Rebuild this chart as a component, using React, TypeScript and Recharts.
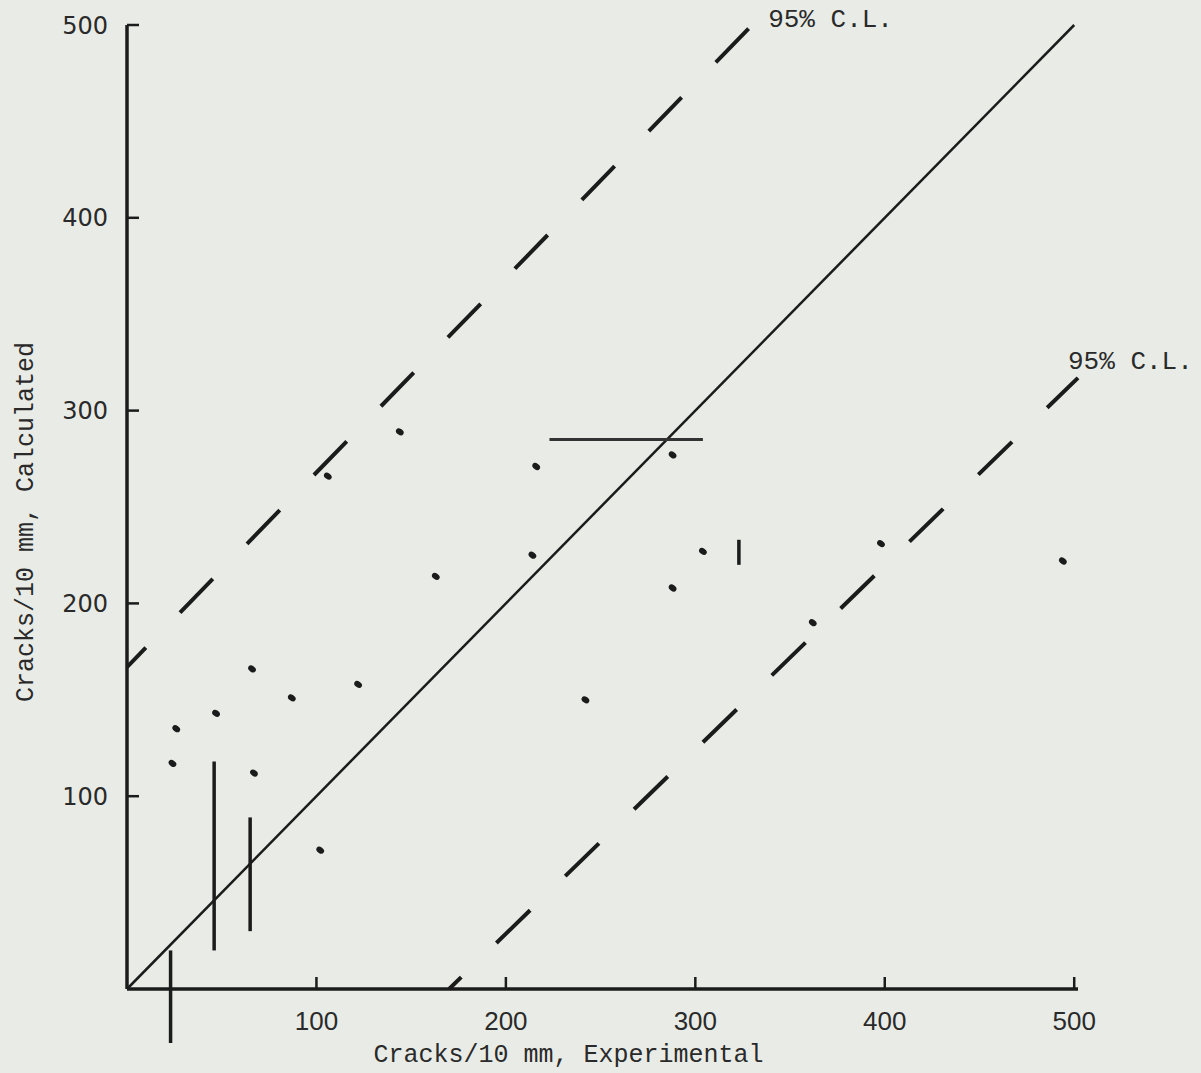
import React from 'react';
import {
  ComposedChart,
  Line,
  Scatter,
  XAxis,
  YAxis,
  ReferenceLine,
  ReferenceDot,
} from 'recharts';

const INK = '#1b1b1b';
const PAPER = '#e9ece6';
const MONO = '"Liberation Mono", "DejaVu Sans Mono", monospace';

const axisTicks = [100, 200, 300, 400, 500];

// single observations: experimental vs calculated cracks/10 mm
const expX = [26, 24, 47, 66, 87, 122, 67, 102, 106, 144, 163, 216, 214, 242, 288, 288, 304, 362, 398, 494];
const calcY = [135, 117, 143, 166, 151, 158, 112, 72, 266, 289, 214, 271, 225, 150, 277, 208, 227, 190, 231, 222];

// vertical ranges (x, low, high)
const vBarX = [46, 65, 23, 323];
const vBarLow = [20, 30, -28, 220];
const vBarHigh = [118, 89, 20, 233];

// horizontal range (y, low, high)
const hBarY = [285];
const hBarLow = [223];
const hBarHigh = [304];

// line of equality and 95% confidence limits
const equalityX = [0, 500];
const equalityY = [0, 500];
const upperCLX = [0, 330];
const upperCLY = [167, 500];
const lowerCLX = [170, 502];
const lowerCLY = [0, 317];

const toPts = (xs: number[], ys: number[]) => xs.map((x, i) => ({ x, y: ys[i] }));

const points = toPts(expX, calcY);
const equality = toPts(equalityX, equalityY);
const upperCL = toPts(upperCLX, upperCLY);
const lowerCL = toPts(lowerCLX, lowerCLY);

const Dot = (props: any) => {
  const { cx, cy } = props;
  if (cx == null || cy == null) return null;
  return <ellipse cx={cx} cy={cy} rx={4.2} ry={3} fill={INK} transform={`rotate(35 ${cx} ${cy})`} />;
};

const clLabel = (dx: number, dy: number) => (props: any) => {
  const { viewBox } = props;
  return (
    <text
      x={viewBox.x + dx}
      y={viewBox.y + dy}
      fill="#2a2a2a"
      fontFamily={MONO}
      fontSize={26}
      dominantBaseline="middle"
    >
      95% C.L.
    </text>
  );
};

export default function App() {
  return (
    <div style={{ position: 'absolute', left: 0, top: 0, width: 1201, height: 1073, background: PAPER }}>
      <ComposedChart width={1201} height={1073} margin={{ top: 25, right: 123, bottom: 0, left: 0 }}>
        <XAxis
          type="number"
          dataKey="x"
          domain={[0, 500]}
          ticks={axisTicks}
          height={84}
          tickSize={-12}
          tickMargin={35}
          axisLine={{ stroke: INK, strokeWidth: 3.5 }}
          tickLine={{ stroke: INK, strokeWidth: 2.5 }}
          tick={{ fill: '#2a2a2a', fontSize: 26, fontFamily: '"Liberation Sans Narrow", "Liberation Sans", sans-serif' }}
          label={{
            value: 'Cracks/10 mm, Experimental',
            position: 'insideBottom',
            offset: 11,
            dx: -34,
            fill: '#2a2a2a',
            fontSize: 25,
            fontFamily: MONO,
          }}
        />
        <YAxis
          type="number"
          dataKey="y"
          domain={[0, 500]}
          ticks={axisTicks}
          width={127}
          tickSize={-12}
          tickMargin={31}
          axisLine={{ stroke: INK, strokeWidth: 3.5 }}
          tickLine={{ stroke: INK, strokeWidth: 2.5 }}
          tick={{ fill: '#2a2a2a', fontSize: 24, fontFamily: '"DejaVu Sans", sans-serif' }}
          label={{
            value: 'Cracks/10 mm, Calculated',
            position: 'insideLeft',
            angle: -90,
            offset: 24,
            dy: 15,
            fill: '#2a2a2a',
            fontSize: 25,
            fontFamily: MONO,
            style: { textAnchor: 'middle' },
          }}
        />
        <Line
          data={equality}
          dataKey="y"
          stroke={INK}
          strokeWidth={2.5}
          dot={false}
          activeDot={false}
          isAnimationActive={false}
        />
        <Line
          data={upperCL}
          dataKey="y"
          stroke={INK}
          strokeWidth={4}
          strokeDasharray="47 49"
          strokeDashoffset={20}
          dot={false}
          activeDot={false}
          isAnimationActive={false}
        />
        <Line
          data={lowerCL}
          dataKey="y"
          stroke={INK}
          strokeWidth={4}
          strokeDasharray="47 49"
          strokeDashoffset={30}
          dot={false}
          activeDot={false}
          isAnimationActive={false}
        />
        {vBarX.map((x, i) => (
          <ReferenceLine
            key={`v${i}`}
            segment={[{ x, y: vBarLow[i] }, { x, y: vBarHigh[i] }]}
            stroke={INK}
            strokeWidth={3.5}
            ifOverflow="visible"
          />
        ))}
        {hBarY.map((y, i) => (
          <ReferenceLine
            key={`h${i}`}
            segment={[{ x: hBarLow[i], y }, { x: hBarHigh[i], y }]}
            stroke="#333"
            strokeWidth={3}
            ifOverflow="visible"
          />
        ))}
        <Scatter data={points} dataKey="y" shape={<Dot />} isAnimationActive={false} />
        <ReferenceDot
          x={upperCLX[upperCLX.length - 1]}
          y={upperCLY[upperCLY.length - 1]}
          r={0}
          stroke="none"
          fill="none"
          ifOverflow="visible"
          label={{ content: clLabel(16, -5) }}
        />
        <ReferenceDot
          x={lowerCLX[lowerCLX.length - 1]}
          y={lowerCLY[lowerCLY.length - 1]}
          r={0}
          stroke="none"
          fill="none"
          ifOverflow="visible"
          label={{ content: clLabel(-10, -16) }}
        />
      </ComposedChart>
    </div>
  );
}
